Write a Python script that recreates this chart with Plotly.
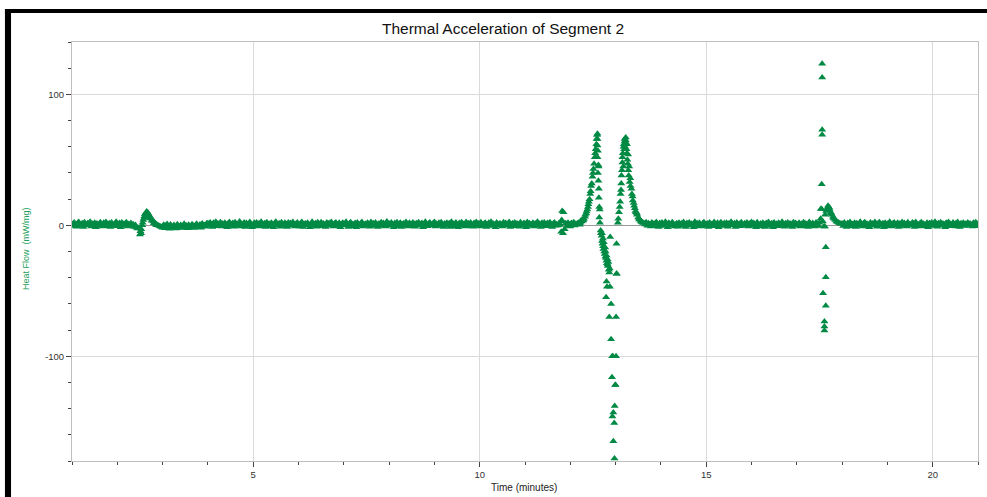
import plotly.graph_objects as go

# ---------------- data ----------------
# baseline readings, one every 0.025 min, grouped in runs; each run gives its start time (min)
sample_step = 0.025

seg_a_start = 1.000
seg_a = [1.2,-0.6,2.1,0.4,-1.1,1.8,2.6,0.2,-0.4,1.5,
         -1.3,2.3,0.9,-0.2,1.7,0.5,2.8,-0.9,1.1,0.3,
         2.0,-1.4,1.4,0.7,-0.5,2.4,1.0,-1.0,1.9,0.1,
         2.5,-0.7,0.8,1.6,-1.2,2.2,0.6,-0.3,1.3,2.7,
         -0.8,0.9,1.8,-1.5,2.1,0.4,1.2,-0.1,2.3,-0.9,
         1.0,0.3,1.7,-0.6,0.8,-1.2,0.2,-1.8,-2.5]
seg_b_start = 2.475
seg_b = [-2.0,-7.0,-6.0,0.0,4.0,7.0,9.0,10.5,9.5,8.0,6.5,5.0,4.0,3.0,2.0,1.2,0.5,0.0,-0.5,-1.0,-1.3]
seg_c_start = 3.000
seg_c = [-1.8,0.4,-2.3,-0.2,1.0,-1.5,-2.6,0.6,-0.9,-1.9,
         0.2,-1.2,-2.4,0.8,-0.5,-1.7,0.3,-2.1,-0.7,1.1,
         -1.4,-0.1,-2.2,0.5,-1.0,-1.6,0.9,-0.4,-2.0,0.1,
         1.2,-1.3,-0.6,0.7,-1.8,1.4,-0.3,0.2,-1.1,1.5]
seg_d_start = 4.000
seg_d = [1.5,-0.4,2.2,0.6,-1.2,1.9,0.3,2.7,-0.8,1.1,
         0.2,2.4,-1.0,1.3,-0.3,2.0,0.8,-1.4,1.6,2.6,
         -0.6,0.9,1.8,-1.1,2.3,0.4,-0.2,1.4,2.9,-0.9,
         1.0,0.1,2.1,-1.3,1.7,0.7,-0.5,2.5,1.2,-1.5,
         0.5,1.9,-0.7,2.2,0.0,1.4,-1.0,2.8,0.9,-0.3,
         1.6,-1.2,2.4,0.3,1.1,-0.8,2.0,0.6,-1.4,1.8,
         2.7,-0.1,0.8,1.5,-1.1,2.3,0.4,-0.6,1.9,1.0,
         -1.3,2.1,0.2,1.7,-0.4,2.6,0.7,-1.0,1.3,2.2,
         0.0,-0.9,1.8,2.5,-1.2,0.9,1.4,-0.2,2.0,0.5,
         -1.5,1.2,2.8,-0.5,0.6,1.6,-1.1,2.3,0.1,1.0,
         2.4,-0.7,1.3,0.4,-1.3,2.1,0.8,1.7,-0.3,2.6,
         0.3,-1.0,1.5,2.2,-0.6,0.9,1.9,-1.4,0.6,2.0,
         1.1,-0.2,2.7,0.2,-1.2,1.4,2.3,-0.8,1.0,0.5,
         1.8,-1.5,2.1,0.7,-0.4,1.6,2.5,-0.9,0.3,1.2,
         -0.1,2.0,1.0,-1.1,2.6,0.4,1.5,-0.6,2.2,0.8,
         -1.3,1.3,0.1,2.4,-0.5,1.8,0.6,-1.0,2.9,0.9,
         1.4,-0.3,2.1,0.0,-1.4,1.7,0.5,2.3,-0.7,1.1,
         2.0,-1.2,0.8,1.5,-0.2,2.6,0.3,-0.9,1.9,0.7,
         -0.5,2.2,1.2,-1.1,1.6,0.2,2.4,-0.4,1.0,1.8,
         -1.5,0.9,2.7,0.4,-0.8,1.3,2.1,-0.1,0.6,1.7,
         2.5,-1.0,1.1,0.0,1.9,-0.6,2.3,0.8,-1.3,1.4,
         0.5,2.0,-0.4,1.6,-1.2,2.8,0.7,1.2,-0.7,2.2,
         0.1,-1.4,1.8,0.9,2.4,-0.3,1.0,-0.9,2.6,0.4,
         1.5,-0.8,2.1,0.3,-1.1,1.7,0.6,2.5,-0.2,1.3,
         -1.0,2.3,0.8,-0.5,1.4,2.0,-1.3,0.2,1.9,0.9,
         2.7,-0.6,1.2,0.5,-1.5,2.2,1.0,-0.1,1.6,0.3,
         -0.9,2.4,0.7,1.8,-0.4,1.1,2.6,-1.2,0.4,1.5,
         0.0,2.1,-0.7,1.3,0.6,-1.1,2.3,0.9,-0.3,1.8,
         1.2,-1.4,2.5,0.2,1.6,-0.5,0.8,2.0,-1.0,1.4,
         0.6,2.8,-0.2,1.1,-1.3,1.9,0.3,2.2,-0.8,1.0,
         1.7,-0.6,2.4,0.5,-1.2,1.3,2.1,-0.4,0.9,-0.1,
         1.6,0.2]
seg_e_start = 11.800
seg_e = [-5.0,3.0,10.0,-3.0,1.5,-0.5,2.0,0.6,-1.0,1.7,0.3,2.3,-0.2,1.2,0.8,2.0]
seg_f_start = 12.200
seg_f = [1.5,2.0,3.0,3.5,5.0,6.5,9.0,12.0,16.0,20.0,26.0,32.0,40.0,47.0,55.0,62.0,70.0,45.0,
         12.0,-6.0,-12.0,-16.0,-20.0,-24.0,-27.0,-30.0,-34.0,-47.0,-60.0,-100.0,-143.0,-178.0,
         -122.0,-37.0,2.0,10.0,18.0,32.0,48.0,60.0,66.0,67.0,62.0,54.0,45.0,36.0,28.0,22.0,
         17.0,13.0,10.0,8.0,6.0,4.5,3.5,2.5,2.0]
seg_g_start = 13.625
seg_g = [1.8,0.6,2.4,-0.3,1.5,0.9,-1.0,2.1,0.2,1.3,
         -0.8,2.6,0.5,-1.2,1.7,0.1,2.2,-0.5,1.0,2.8,
         0.4,-1.4,1.9,0.8,-0.2,2.3,1.2,-0.9,0.6,1.6,
         -1.1,2.0,0.3,1.4,-0.6,2.5,0.7,-1.3,1.8,0.0,
         2.2,-0.4,1.1,0.5,-1.5,2.7,0.9,1.5,-0.7,2.0,
         0.2,-1.0,1.6,2.4,-0.3,0.8,1.3,-1.2,2.1,0.6,
         1.0,-0.8,2.6,0.4,-0.1,1.9,-1.4,1.2,2.3,0.7,
         -0.5,1.7,0.1,2.0,-1.1,1.4,0.6,2.8,-0.2,0.9,
         1.5,-1.3,2.2,0.3,1.1,-0.7,2.4,0.8,-0.4,1.6,
         0.0,2.1,-1.0,1.3,0.5,2.6,-0.6,1.8,0.2,-1.5,
         2.3,0.7,-0.2,1.4,-0.9,2.0,1.0,-1.2,1.7,0.4,
         2.5,-0.5,0.9,1.6,-1.4,2.2,0.3,1.2,-0.8,1.9,
         0.6,-0.1,2.7,0.8,-1.1,1.5,0.0,2.1,-0.6,1.3,
         1.0,-1.3,2.4,0.2,1.8,-0.4,0.7,2.0,-0.9,1.1,
         0.5,2.3,-0.7,1.4,0.1,-1.2,2.6,0.9,-0.3,1.7,
         0.4,-1.0,2.1,1.2,-0.5]
seg_h_start = 17.500
seg_h = [2.0,5.0,12.5,3.0,-1.0,8.0,11.0,13.0,14.0,12.0,10.0,8.0,6.5,5.0,4.0,3.0,2.5,2.0,1.5,1.0]
seg_i_start = 18.000
seg_i = [1.4,-0.5,2.2,0.7,-1.2,1.8,0.3,2.5,-0.8,1.0,
         0.1,2.0,-1.3,1.5,0.6,-0.2,2.7,0.9,-1.0,1.6,
         2.3,-0.6,1.1,0.4,-1.4,2.1,0.8,1.3,-0.3,2.6,
         0.2,-1.1,1.7,2.4,-0.4,0.9,1.5,-1.5,2.0,0.5,
         1.2,-0.7,2.8,0.0,-0.9,1.6,2.2,-0.2,0.7,1.9,
         -1.2,1.3,0.4,2.5,-0.6,1.8,0.1,-1.0,2.3,1.0,
         0.6,-0.3,2.1,1.4,-1.3,2.6,0.3,0.9,-0.8,1.7,
         2.4,-1.0,1.2,0.5,-0.1,2.0,-1.4,1.5,0.8,2.2,
         -0.5,1.1,2.7,0.2,-1.1,1.6,0.6,2.3,-0.4,1.3,
         0.9,-1.5,1.9,0.4,2.5,-0.7,1.0,0.1,2.1,-0.2,
         1.4,-0.9,2.6,0.7,-1.2,1.5,0.3,2.0,-0.6,1.1,
         0.8,2.2,-0.4,1.3,0.5,-1.0,1.9,0.2,2.4,-0.7,
         1.1,0.6,-0.2,1.7]

# additional scattered readings around the transitions
extra_time = [2.51,2.53,2.56,2.59,2.61,2.64,2.66,2.69,2.72,2.76,2.81,2.86,
              11.82,11.84,11.81,
              12.21,12.24,12.29,12.33,12.36,12.39,12.41,12.44,12.46,12.49,12.51,12.54,12.56,12.58,12.59,12.60,12.60,
              12.61,12.60,12.62,12.61,12.62,12.63,12.63,12.64,12.64,12.655,
              12.67,12.69,12.70,12.71,12.72,12.73,12.74,12.76,12.77,12.78,12.79,12.80,12.81,12.82,12.83,12.84,
              12.86,12.87,12.88,12.80,12.81,12.79,12.86,
              12.90,12.92,12.93,12.94,12.95,12.97,12.98,12.99,13.01,13.01,13.02,13.02,
              13.06,13.09,13.11,13.12,13.13,13.14,13.15,13.16,13.17,13.18,13.19,13.20,13.21,13.22,13.23,
              13.24,13.25,13.26,13.27,13.28,13.29,13.31,13.33,13.36,13.38,13.41,13.44,13.47,13.52,13.57,
              17.56,17.56,17.56,17.56,17.55,17.53,17.62,17.64,17.64,17.58,17.64,17.61,17.61,17.61,
              17.66,17.69,17.72,17.76,17.81]
extra_flow = [-4.5,-3.0,2.0,5.5,8.5,10.0,9.0,7.0,5.5,3.5,1.5,0.0,
              11.0,-6.0,4.0,
              0.5,3.8,4.0,8.0,10.5,14.0,18.0,24.0,30.0,37.0,43.0,52.0,58.0,66.0,69.0,66.0,61.0,
              57.0,52.0,46.0,40.0,34.0,28.0,21.0,14.0,6.0,2.0,
              -4.0,-8.0,-6.0,-14.0,-10.0,-18.0,-13.0,-22.0,-17.0,-20.0,-25.0,-23.0,-29.0,-26.0,-31.0,-28.0,
              -36.0,-33.0,-9.0,-43.0,-47.0,-55.0,-70.0,
              -87.0,-116.0,-146.0,-100.0,-165.0,-151.0,-138.0,-122.0,-70.0,-100.0,-14.0,-37.0,
              5.0,14.0,24.0,27.0,38.0,42.0,52.0,55.0,45.0,62.0,58.0,64.0,60.0,65.0,63.0,
              58.0,55.0,50.0,47.0,42.0,38.0,33.0,30.0,24.0,19.0,15.0,11.0,9.0,5.0,3.0,
              123.3,112.8,72.9,69.1,31.4,12.5,-1.0,-16.7,-39.6,-51.8,-61.5,-73.4,-77.2,-80.3,
              12.0,15.0,13.5,9.0,5.5]

x_tick_vals = [5, 10, 15, 20]
y_tick_vals = [-100, 0, 100]
y_tick_text = ["-100", "0", "100"]

runs = [(seg_a_start, seg_a), (seg_b_start, seg_b), (seg_c_start, seg_c),
        (seg_d_start, seg_d), (seg_e_start, seg_e), (seg_f_start, seg_f),
        (seg_g_start, seg_g), (seg_h_start, seg_h), (seg_i_start, seg_i)]

time_min, heat_flow = [], []
for start, vals in runs:
    for k, v in enumerate(vals):
        time_min.append(round(start + sample_step * k, 4))
        heat_flow.append(v)
n_extra = min(len(extra_time), len(extra_flow))
time_min += extra_time[:n_extra]
heat_flow += extra_flow[:n_extra]

# ---------------- figure ----------------
GREEN = "#008a44"
FONT = "Liberation Sans, Arial, Helvetica, sans-serif"

fig = go.Figure()
fig.add_trace(go.Scatter(
    x=time_min, y=heat_flow, mode="markers",
    marker=dict(symbol="triangle-up", size=7, color=GREEN, line=dict(width=0)),
    showlegend=False, hoverinfo="x+y",
))

axis_common = dict(
    showline=True, linecolor="#bfbfbf", linewidth=1, mirror=True,
    showgrid=True, gridcolor="#dadada", gridwidth=1,
    ticks="outside", ticklen=5, tickcolor="#444", tickwidth=1,
    tickfont=dict(family=FONT, size=9.5, color="#333"),
)

fig.update_xaxes(range=[1, 21], tickmode="array", tickvals=x_tick_vals,
                 ticktext=[str(v) for v in x_tick_vals], zeroline=False,
                 minor=dict(dtick=1, tick0=0, ticks="outside", ticklen=3, tickcolor="#444", showgrid=False),
                 **axis_common)
fig.update_yaxes(range=[-180, 140], tickmode="array", tickvals=y_tick_vals, ticktext=y_tick_text,
                 zeroline=True, zerolinecolor="#9a9a9a", zerolinewidth=1,
                 minor=dict(dtick=20, tick0=0, ticks="outside", ticklen=3, tickcolor="#444", showgrid=False),
                 **axis_common)

fig.update_layout(
    width=987, height=497,
    margin=dict(l=72, r=9, t=42, b=36),
    paper_bgcolor="white", plot_bgcolor="white",
    font=dict(family=FONT),
    annotations=[
        dict(text="Thermal Acceleration of Segment 2", xref="paper", yref="paper",
             x=0.476, y=1.0334, xanchor="center", yanchor="middle", showarrow=False,
             font=dict(family=FONT, size=15.5, color="#111")),
        dict(text="Time (minutes)", xref="paper", yref="paper",
             x=0.499, y=-0.0644, xanchor="center", yanchor="middle", showarrow=False,
             font=dict(family=FONT, size=10, color="#222")),
        dict(text="Heat Flow  (mW/mg)", xref="paper", yref="paper",
             x=-0.0508, y=0.508, xanchor="center", yanchor="middle", showarrow=False,
             textangle=-90, font=dict(family=FONT, size=9, color="#22a05a")),
    ],
    shapes=[
        dict(type="rect", xref="paper", yref="paper", x0=-0.0740, x1=1.0100,
             y0=1.0690, y1=1.0790, fillcolor="black", line=dict(width=0), layer="above"),
        dict(type="rect", xref="paper", yref="paper", x0=-0.0740, x1=-0.0673,
             y0=-0.09, y1=1.0790, fillcolor="black", line=dict(width=0), layer="above"),
    ],
)

fig.write_html("out.html", config={"displayModeBar": False},
               post_script="document.body.style.margin='0px';document.body.style.padding='0px';")
